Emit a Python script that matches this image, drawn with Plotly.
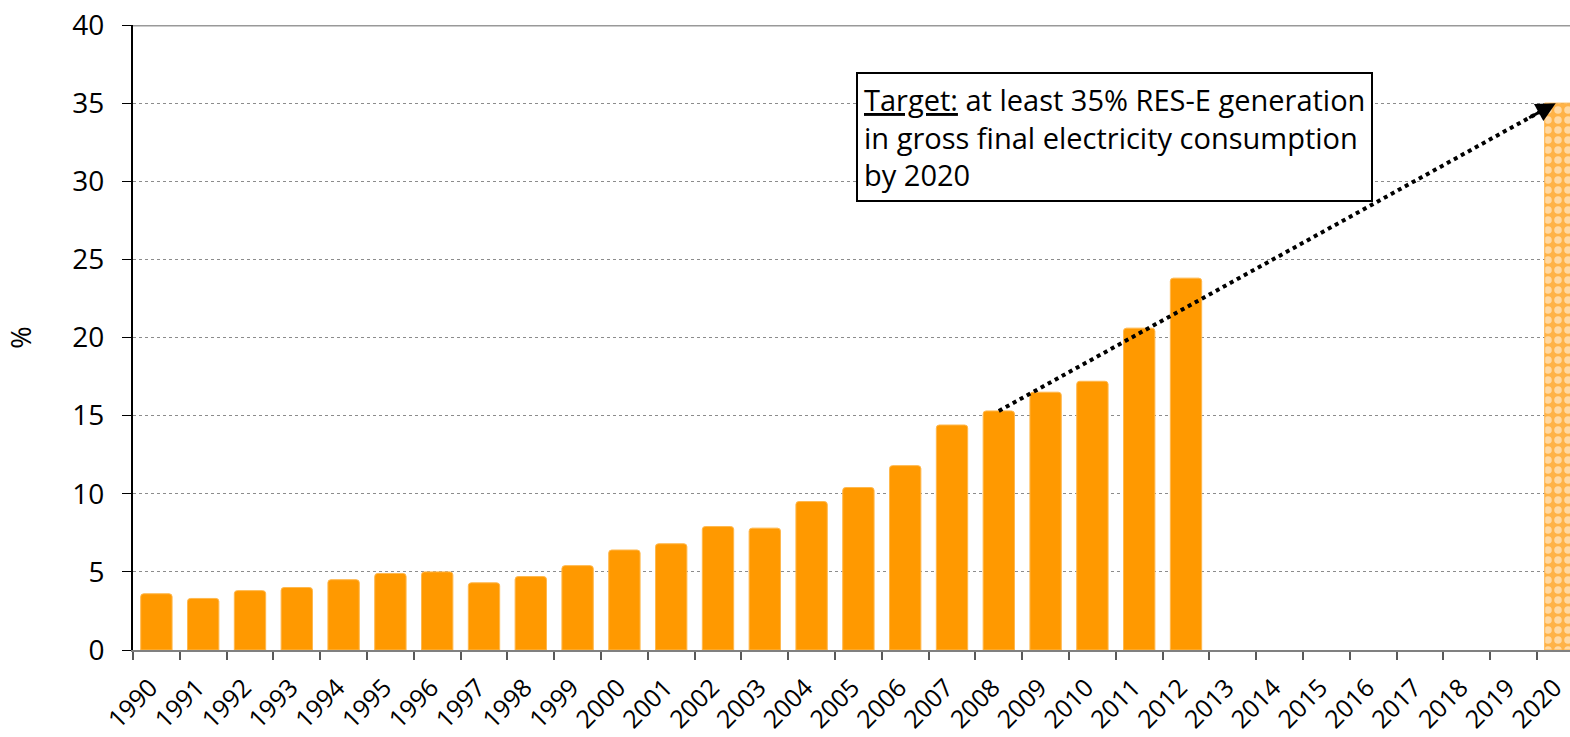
import plotly.graph_objects as go

years = list(range(1990, 2021))
share = [3.6, 3.3, 3.8, 4.0, 4.5, 4.9, 5.0, 4.3, 4.7, 5.4, 6.4, 6.8, 7.9, 7.8, 9.5,
         10.4, 11.8, 14.4, 15.3, 16.5, 17.2, 20.6, 23.8]
hist_years = years[:len(share)]
target_year = [2020]
target_val = [35]
y_ticks = [0, 5, 10, 15, 20, 25, 30, 35, 40]

ORANGE = "#FF9900"

fig = go.Figure()
fig.add_trace(go.Bar(x=hist_years, y=share, width=0.67,
                     marker=dict(color=ORANGE, line=dict(color="#FFB84D", width=1), cornerradius=3),
                     showlegend=False))
fig.add_trace(go.Bar(x=target_year, y=target_val, width=0.67,
                     marker=dict(color="#FFB347", line=dict(color="#FFB347", width=1),
                                 pattern=dict(shape=".", fgcolor="white", bgcolor="#FFB347",
                                              size=10, solidity=0.45, fillmode="overlay")),
                     showlegend=False))

fig.update_layout(
    width=1570, height=737,
    margin=dict(l=133, r=0, t=25, b=87),
    plot_bgcolor="white", paper_bgcolor="white",
    bargap=0.3,
    font=dict(family="Open Sans, sans-serif", color="black"),
)
fig.update_xaxes(
    range=[1989.5, 2020.205], tickvals=years, ticktext=[str(y) for y in years],
    tickangle=-45, tickfont=dict(size=25), ticks="", showgrid=False,
    ticklabeloverflow="allow", ticklabelstandoff=11, ticklabelshift=-6, automargin=False,
    showline=True, linecolor="#808080", linewidth=2, zeroline=False,
    minor=dict(tickvals=[y - 0.5 for y in years], ticks="outside", ticklen=8,
               tickcolor="#595959", tickwidth=2),
)
fig.update_yaxes(
    range=[0, 40], tickvals=y_ticks, tickfont=dict(size=28), ticks="outside", ticklen=9,
    ticklabelstandoff=12, automargin=False,
    tickcolor="black", showline=True, linecolor="black", linewidth=2,
    showgrid=True, gridcolor="#8c8c8c", griddash="dot", gridwidth=1, zeroline=False,
    title=dict(text="%", font=dict(size=27), standoff=33),
)
# top border line
fig.add_shape(type="line", xref="paper", yref="y", x0=0, x1=1, y0=40, y1=40,
              line=dict(color="#999999", width=3))

# dotted arrow from 2008 to target
x0, y0 = 2008, 15.3
x1, y1 = 2019.9, 35
fig.add_shape(type="line", xref="x", yref="y", x0=x0, y0=y0, x1=x1 - 0.3, y1=y1 - 0.3 * (y1 - y0) / (x1 - x0),
              line=dict(color="black", width=4, dash="dot"))
fig.add_annotation(x=x1, y=y1, ax=x1 - 0.6, ay=y1 - 0.6 * (y1 - y0) / (x1 - x0),
                   xref="x", yref="y", axref="x", ayref="y", text="", showarrow=True,
                   arrowhead=2, arrowsize=1.3, arrowwidth=3, arrowcolor="black")

fig.add_annotation(xref="paper", yref="paper", x=0.503, y=0.925, xanchor="left", yanchor="top",
                   text="<u>Target:</u> at least 35% RES-E generation<br>in gross final electricity consumption<br>by 2020",
                   showarrow=False, align="left", font=dict(size=29, family="Open Sans"),
                   bordercolor="black", borderwidth=2, borderpad=6, bgcolor="white")

fig.write_html("out.html")
